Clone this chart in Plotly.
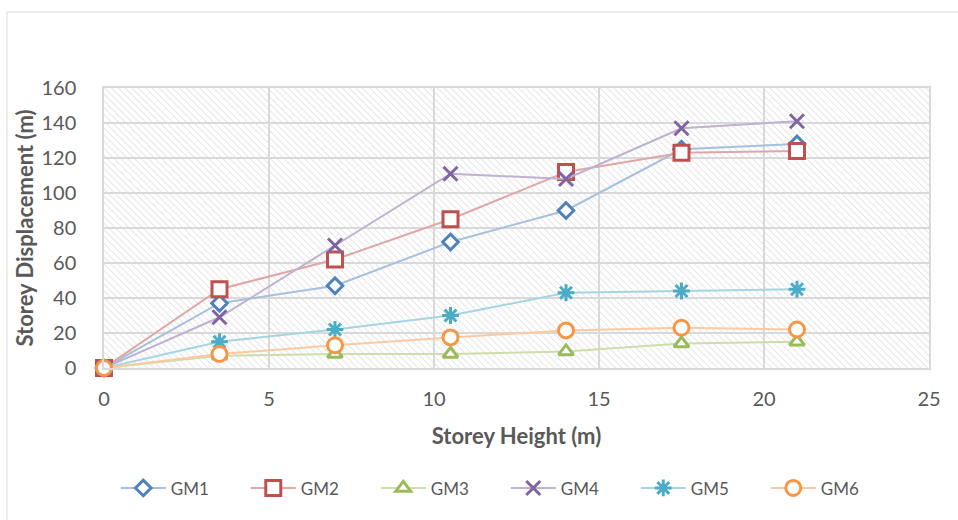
import base64
import plotly.graph_objects as go

storey_height = [0, 3.5, 7, 10.5, 14, 17.5, 21]
gm1 = [0, 37, 47, 72, 90, 125, 128]
gm2 = [0, 45, 62, 85, 112, 123, 124]
gm3 = [0, 7, 8, 8, 9.5, 14, 15]
gm4 = [0, 29, 70, 111, 108, 137, 141]
gm5 = [0, 15, 22, 30, 43, 44, 45]
gm6 = [0, 8, 13, 17.5, 21.5, 23, 22]

series_names = ["GM1", "GM2", "GM3", "GM4", "GM5", "GM6"]
series_values = [gm1, gm2, gm3, gm4, gm5, gm6]
marker_colors = ["#4F81BD", "#C0504D", "#9BBB59", "#8064A2", "#4BACC6", "#F79646"]
line_colors = ["#A7C0DE", "#DFA7A6", "#CDDDAC", "#BFB1D0", "#A5D5E2", "#FBCAA2"]
symbols = ["diamond", "square", "triangle-up", "x-thin-open", "asterisk-open", "circle"]
sizes = [12, 15, 13, 14, 14, 15]

fig = go.Figure()
for name, vals, mc, lc, sym, sz in zip(series_names, series_values, marker_colors,
                                         line_colors, symbols, sizes):
    thin = sym in ("x-thin-open", "asterisk-open")
    fig.add_trace(go.Scatter(
        x=storey_height, y=vals, name=name, mode="lines+markers",
        line=dict(color=lc, width=2),
        marker=dict(symbol=sym, size=sz, color="white" if not thin else mc,
                    line=dict(color=mc, width=3)),
        cliponaxis=False,
    ))

svg = ("<svg xmlns='http://www.w3.org/2000/svg' width='825' height='280'>"
       "<defs><pattern id='p' width='4.8' height='4.8' patternUnits='userSpaceOnUse' "
       "patternTransform='rotate(-45)'><line x1='0' y1='0' x2='0' y2='4.8' "
       "stroke='#d9d9d9' stroke-width='1.3'/></pattern></defs>"
       "<rect width='100%' height='100%' fill='white'/>"
       "<rect width='100%' height='100%' fill='url(#p)'/></svg>")
src = "data:image/svg+xml;base64," + base64.b64encode(svg.encode()).decode()

font = "Lato, 'Open Sans', sans-serif"
fig.update_layout(
    width=958, height=520,
    margin=dict(l=104, r=29, t=88, b=152, autoexpand=False),
    paper_bgcolor="white", plot_bgcolor="rgba(0,0,0,0)",
    font=dict(family=font, size=20, color="#595959"),
    images=[dict(source=src, xref="paper", yref="paper", x=0, y=1, sizex=1, sizey=1,
                 sizing="stretch", layer="below", xanchor="left", yanchor="top")],
    xaxis=dict(range=[0, 25], dtick=5, tick0=0, showgrid=True, gridcolor="#d9d9d9",
               gridwidth=1.5, zeroline=False, showline=True, linecolor="#d9d9d9",
               linewidth=1.5, mirror=True, ticks="", ticklabelstandoff=12,
               tickfont=dict(size=20, color="#595959"), automargin=False,
               title=dict(text="<b>Storey Height (m)</b>", font=dict(size=22, color="#595959"),
                          standoff=20)),
    yaxis=dict(range=[0, 160], dtick=20, tick0=0, showgrid=True, gridcolor="#d9d9d9",
               gridwidth=1.5, zeroline=False, showline=True, linecolor="#d9d9d9",
               linewidth=1.5, mirror=True, ticks="", ticklabelstandoff=22,
               tickfont=dict(size=20, color="#595959"), automargin=False,
               title=dict(text="<b>Storey Displacement (m)</b>",
                          font=dict(size=22, color="#595959"), standoff=2)),
    legend=dict(orientation="h", x=0.487, xanchor="center", y=-0.43, yanchor="middle",
                font=dict(size=17, color="#595959"), itemwidth=45, entrywidth=70,
                bgcolor="rgba(0,0,0,0)"),
    shapes=[dict(type="rect", xref="paper", yref="paper",
                 x0=-0.1176, x1=1.2, y0=-0.7, y1=1.2714,
                 line=dict(color="#d9d9d9", width=1), fillcolor="rgba(0,0,0,0)",
                 layer="below")],
)

fig.write_html("out.html", config={"displayModeBar": False},
               post_script="document.body.style.margin='0';")
